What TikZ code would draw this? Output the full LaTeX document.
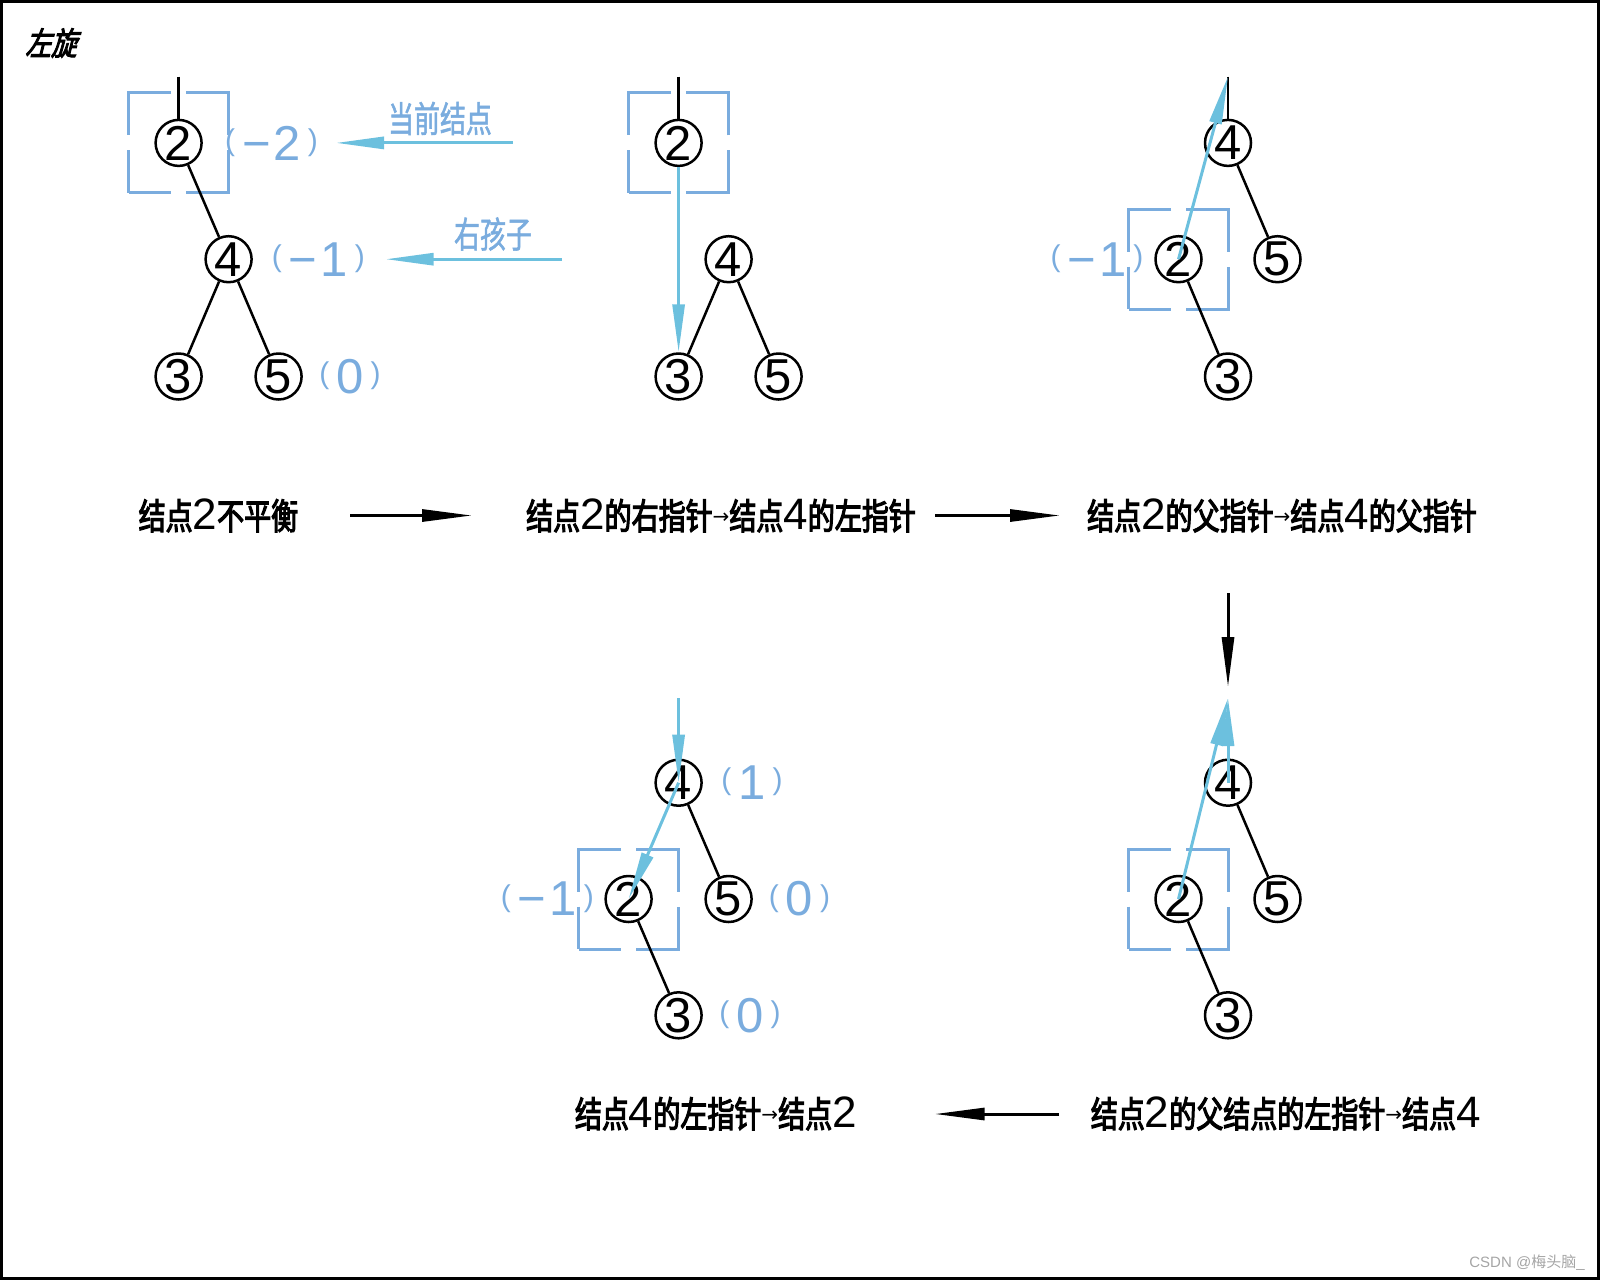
\documentclass[tikz,border=0pt]{standalone}
\usepackage{fontspec}
\usetikzlibrary{arrows.meta}
\newfontfamily\cjkblack[FakeStretch=0.75,FakeBold=3]{Noto Sans CJK SC}
\newfontfamily\cjkblue[FakeStretch=0.72,FakeBold=1.5]{Noto Sans CJK SC}
\newfontfamily\cjktitle[FakeStretch=0.8,FakeBold=3,FakeSlant=0.25]{Noto Sans CJK SC}
\newfontfamily\cjkwm{Noto Sans CJK SC}
\newfontfamily\digfont{Liberation Sans}
\newfontfamily\arrfont{DejaVu Sans}
\definecolor{boxblue}{RGB}{122,172,222}
\definecolor{arrblue}{RGB}{108,192,222}
\definecolor{wmgray}{RGB}{165,165,165}
\newcommand\dg[1]{{\digfont\fontsize{44}{44}\selectfont #1}}
\newcommand\ptr{\raisebox{6pt}{\arrfont\fontsize{20}{20}\selectfont →}}
\newcommand\lpar{\raisebox{9.7pt}{\fontsize{30}{30}\selectfont(}}
\newcommand\rpar{\raisebox{9.7pt}{\fontsize{30}{30}\selectfont)}}
\newcommand\bal[1]{\lpar\hspace{7pt}#1\hspace{7pt}\rpar}
\tikzset{
 nd/.style={circle,draw,line width=2.5pt,minimum size=46pt,inner sep=0pt,font=\digfont\fontsize{49}{49}\selectfont},
 lbl/.style={inner sep=0pt,text=boxblue,font=\digfont\fontsize{49}{49}\selectfont},
 edg/.style={line width=2.5pt},
 cyarr/.style={draw=arrblue,line width=3pt,-{Triangle[length=48pt,width=12pt]}},
 blkarr/.style={line width=3pt,-{Triangle[length=50pt,width=12pt]}},
 bbox/.style={draw=boxblue,line width=3pt,dash pattern=on 85pt off 15pt,dash phase=42.5pt,minimum size=100pt,inner sep=0pt},
 btxt/.style={inner sep=0pt,font=\cjkblack\fontsize{36}{36}\selectfont},
 bluetxt/.style={inner sep=0pt,text=boxblue,font=\cjkblue\fontsize{36}{36}\selectfont},
}
\begin{document}
\begin{tikzpicture}[x=1pt,y=-1pt]
\useasboundingbox (0,0) rectangle (1600,1280);
\draw[line width=3pt] (1.5,1.5) rectangle (1598.5,1278.5);

\node[inner sep=0pt,font=\cjktitle\fontsize{32}{32}\selectfont] (title) at (51,43) {左旋};

% ---------- tree 1 ----------
\node[nd] (n12) at (178.6,142.9) {2};
\node[nd] (n14) at (228.6,259.2) {4};
\node[nd] (n13) at (178.6,376.5) {3};
\node[nd] (n15) at (278.6,376.5) {5};
\node[bbox] (b1) at (n12) {};
\coordinate (s1) at (178.6,76.5);
\draw[edg] (s1) -- (n12);
\draw[edg] (n12) -- (n14);
\draw[edg] (n14) -- (n13);
\draw[edg] (n14) -- (n15);
\node[lbl] (l12) at (271.5,143) {\bal{−\hspace{3pt}2}};
\node[lbl] (l14) at (318.4,259.2) {\bal{−\hspace{3pt}1}};
\node[lbl] (l15) at (350,376.5) {\bal{0}};
\coordinate (a1s) at (512.5,142.9);
\coordinate (a1e) at (336,142.9);
\coordinate (a2s) at (562,259.2);
\coordinate (a2e) at (385.7,259.2);
\draw[cyarr] (a1s) -- (a1e);
\draw[cyarr] (a2s) -- (a2e);
\node[bluetxt] (cur) at (440,118.5) {当前结点};
\node[bluetxt] (rc) at (493,234) {右孩子};

% ---------- tree 2 ----------
\node[nd] (n22) at (678.6,142.9) {2};
\node[nd] (n24) at (728.6,259.2) {4};
\node[nd] (n23) at (678.6,376.5) {3};
\node[nd] (n25) at (778.6,376.5) {5};
\node[bbox] (b2) at (n22) {};
\coordinate (s2) at (678.6,76.5);
\draw[edg] (s2) -- (n22);
\draw[edg] (n24) -- (n23);
\draw[edg] (n24) -- (n25);
\draw[cyarr] (n22.south) -- (n23.north);

% ---------- tree 3 ----------
\node[nd] (n34) at (1228,142.9) {4};
\node[nd] (n32) at (1178.5,259.2) {2};
\node[nd] (n35) at (1277.5,259.2) {5};
\node[nd] (n33) at (1228,376.5) {3};
\node[bbox] (b3) at (n32) {};
\coordinate (s3) at (1228,76.5);
\draw[edg] (s3) -- (n34);
\draw[edg] (n34) -- (n35);
\draw[edg] (n32) -- (n33);
\node[lbl] (l32) at (1097,259.2) {\bal{−\hspace{3pt}1}};
\draw[cyarr] (n32.center) -- (s3);

% ---------- step texts ----------
\node[btxt] (tx1) at (218.4,515.5) {结点\dg{2}不平衡};
\node[btxt] (tx2) at (721,515.5) {结点\dg{2}的右指针\ptr 结点\dg{4}的左指针};
\node[btxt] (tx3) at (1282,515.5) {结点\dg{2}的父指针\ptr 结点\dg{4}的父指针};
\node[btxt] (tx4) at (715.8,1113.5) {结点\dg{4}的左指针\ptr 结点\dg{2}};
\node[btxt] (tx5) at (1285.7,1113.5) {结点\dg{2}的父结点的左指针\ptr 结点\dg{4}};
\coordinate (k1s) at (350,515.5);
\coordinate (k1e) at (472,515.5);
\coordinate (k2s) at (935,515.5);
\coordinate (k2e) at (1060,515.5);
\coordinate (k3s) at (1228,593);
\coordinate (k3e) at (1228,687);
\coordinate (k4s) at (1059,1114);
\coordinate (k4e) at (934.7,1114);
\draw[blkarr] (k1s) -- (k1e);
\draw[blkarr] (k2s) -- (k2e);
\draw[blkarr] (k3s) -- (k3e);
\draw[blkarr] (k4s) -- (k4e);

% ---------- tree 4 (bottom middle) ----------
\node[nd] (n44) at (678.6,782.7) {4};
\node[nd] (n42) at (628.6,899) {2};
\node[nd] (n45) at (728.6,899) {5};
\node[nd] (n43) at (678.6,1015.3) {3};
\node[bbox] (b4) at (n42) {};
\draw[edg] (n44) -- (n45);
\draw[edg] (n42) -- (n43);
\node[lbl] (l44) at (752,782.7) {\bal{1}};
\node[lbl] (l45) at (799.5,899) {\bal{0}};
\node[lbl] (l42) at (547.4,899) {\bal{−\hspace{3pt}1}};
\node[lbl] (l43) at (750,1015.3) {\bal{0}};
\coordinate (a4s) at (678.6,698);
\draw[cyarr] (a4s) -- (n44.center);
\draw[cyarr] (n44.center) -- (n42.center);

% ---------- tree 5 (bottom right) ----------
\node[nd] (n54) at (1228,782.7) {4};
\node[nd] (n52) at (1178.5,899) {2};
\node[nd] (n55) at (1277.5,899) {5};
\node[nd] (n53) at (1228,1015.3) {3};
\node[bbox] (b5) at (n52) {};
\draw[edg] (n54) -- (n55);
\draw[edg] (n52) -- (n53);
\coordinate (a5e) at (1228,698);
\draw[cyarr] (n52.center) -- (a5e);
\draw[cyarr] (n54.center) -- (a5e);

\node[inner sep=0pt,text=wmgray,font=\digfont\fontsize{15}{15}\selectfont] (wm) at (1527,1262.5) {CSDN @{\cjkwm 梅头脑}\_};
\end{tikzpicture}
\end{document}
